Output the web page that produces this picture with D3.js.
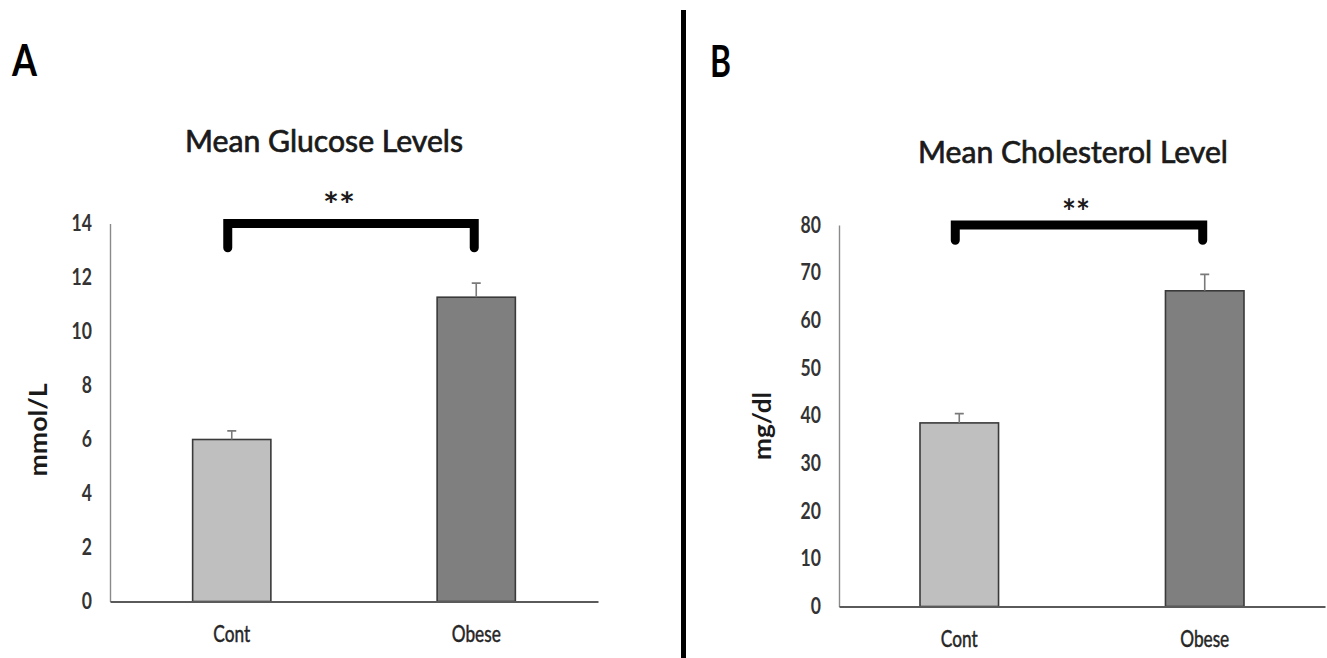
<!DOCTYPE html>
<html lang="en">
<head>
    <meta charset="UTF-8">
    <title>Mean Glucose and Cholesterol</title>
    <script src="https://d3js.org/d3.v7.min.js"></script>

    <style>
        body {
            margin: 0;
            background: #ffffff;
            font-family: Lato, "Open Sans", Arial, sans-serif;
        }

        svg {
            display: block;
        }
    </style>
</head>
<body>

    <div id="container"></div>

    <script>

        // data
        const categories = ['Cont', 'Obese'];

        const glucoseMeans = [6.0, 11.27];
        const glucoseErrors = [0.32, 0.52];
        const glucoseTicks = [0, 2, 4, 6, 8, 10, 12, 14];

        const cholesterolMeans = [38.5, 66.2];
        const cholesterolErrors = [1.95, 3.45];
        const cholesterolTicks = [0, 10, 20, 30, 40, 50, 60, 70, 80];

        const panelLetters = ['A', 'B'];
        const panelTitles = ['Mean Glucose Levels', 'Mean Cholesterol Level'];
        const yLabels = ['mmol/L', 'mg/dl'];
        const sigMark = '**';
        // bracket top and leg ends, in axis units
        const bracketTop = [14, 80];
        const bracketLeg = [13.1, 76.8];

        const width = 1327;
        const height = 658;

        const svg = d3.select('#container').append('svg')
            .attr('width', width)
            .attr('height', height);

        const barColor = d3.scaleOrdinal()
            .domain(categories)
            .range(['#bfbfbf', '#7f7f7f']);

        // squeeze text horizontally (the source figure is a bit narrow)
        function squeeze(sel, k) {
            sel.each(function() {
                const w = this.getComputedTextLength();
                d3.select(this)
                    .attr('textLength', w * k)
                    .attr('lengthAdjust', 'spacingAndGlyphs');
            });
        }

        function fitTo(sel, w) {
            sel.attr('textLength', w).attr('lengthAdjust', 'spacingAndGlyphs');
        }

        // layout of the two panels
        const panels = [
            {
                letter: panelLetters[0], title: panelTitles[0], yLabel: yLabels[0],
                means: glucoseMeans, errors: glucoseErrors, ticks: glucoseTicks,
                top: bracketTop[0], leg: bracketLeg[0],
                x0: 110, x1: 598, base: 601.5, yTop: 223.5,
                padOuter: 0.338,
                letterX: 12, letterW: 25, letterY: 76,
                titleX: 324, titleY: 152, titleW: 278,
                labelX: 47, labelY: 430, labelW: 93,
                starDx: -12, starY: 217, starW: 32
            },
            {
                letter: panelLetters[1], title: panelTitles[1], yLabel: yLabels[1],
                means: cholesterolMeans, errors: cholesterolErrors, ticks: cholesterolTicks,
                top: bracketTop[1], leg: bracketLeg[1],
                x0: 839, x1: 1325, base: 606.5, yTop: 225,
                padOuter: 0.33,
                letterX: 710, letterW: 21, letterY: 77,
                titleX: 1073, titleY: 163, titleW: 310,
                labelX: 771, labelY: 426, labelW: 68,
                starDx: -3, starY: 224, starW: 28
            }
        ];

        panels.forEach(function(p) {

            const g = svg.append('g');

            const x = d3.scaleBand()
                .domain(categories)
                .range([p.x0, p.x1])
                .paddingInner(0.68)
                .paddingOuter(p.padOuter);

            const y = d3.scaleLinear()
                .domain([0, p.ticks[p.ticks.length - 1]])
                .range([p.base, p.yTop]);

            // bars
            g.selectAll('.bar')
                .data(categories)
                .enter()
                .append('rect')
                .attr('class', 'bar')
                .attr('x', d => x(d))
                .attr('width', x.bandwidth())
                .attr('y', (d, i) => y(p.means[i]))
                .attr('height', (d, i) => y(0) - y(p.means[i]))
                .attr('fill', d => barColor(d))
                .attr('stroke', '#3a3a3a')
                .attr('stroke-width', 1.6);

            // error bars (plus side only)
            const cx = d => x(d) + x.bandwidth() / 2;

            g.selectAll('.err')
                .data(categories)
                .enter()
                .append('path')
                .attr('class', 'err')
                .attr('d', function(d, i) {
                    const yb = y(p.means[i]);
                    const ye = y(p.means[i] + p.errors[i]);
                    return 'M' + cx(d) + ',' + yb + 'V' + ye +
                        'M' + (cx(d) - 4.5) + ',' + ye + 'H' + (cx(d) + 4.5);
                })
                .attr('fill', 'none')
                .attr('stroke', '#7a7a7a')
                .attr('stroke-width', 1.6);

            // y axis
            const yAxis = g.append('g')
                .attr('transform', 'translate(' + p.x0 + ',0)')
                .call(d3.axisLeft(y).tickValues(p.ticks).tickSize(0).tickPadding(18));

            yAxis.select('.domain')
                .attr('stroke', '#8a8a8a')
                .attr('stroke-width', 1.4);

            yAxis.selectAll('text')
                .attr('font-family', 'Lato, sans-serif')
                .attr('font-size', 22)
                .attr('font-weight', 'bold')
                .attr('fill', '#333')
                .call(squeeze, 0.8);

            // x axis
            const xAxis = g.append('g')
                .attr('transform', 'translate(0,' + p.base + ')')
                .call(d3.axisBottom(x).tickSize(0).tickPadding(24));

            xAxis.select('.domain')
                .attr('stroke', '#5a5a5a')
                .attr('stroke-width', 2);

            xAxis.selectAll('text')
                .attr('font-family', 'Lato, sans-serif')
                .attr('font-size', 23)
                .attr('fill', '#262626')
                .attr('stroke', '#262626')
                .attr('stroke-width', 0.5)
                .call(squeeze, 0.75);

            // significance bracket
            const xl = cx(categories[0]) - 4;
            const xr = cx(categories[1]) - 2;

            g.append('path')
                .attr('d', 'M' + xl + ',' + y(p.leg) + 'V' + y(p.top) +
                    'H' + xr + 'V' + y(p.leg))
                .attr('fill', 'none')
                .attr('stroke', '#000')
                .attr('stroke-width', 9)
                .attr('stroke-linecap', 'round');

            g.append('text')
                .attr('x', (xl + xr) / 2 + p.starDx)
                .attr('y', p.starY)
                .attr('text-anchor', 'middle')
                .attr('font-family', 'Lato, sans-serif')
                .attr('font-size', 34)
                .attr('font-weight', 'bold')
                .attr('fill', '#1a1a1a')
                .text(sigMark)
                .call(fitTo, p.starW);

            // title
            g.append('text')
                .attr('x', p.titleX)
                .attr('y', p.titleY)
                .attr('text-anchor', 'middle')
                .attr('font-family', 'Lato, sans-serif')
                .attr('font-size', 30)
                .attr('fill', '#1a1a1a')
                .attr('stroke', '#1a1a1a')
                .attr('stroke-width', 0.7)
                .text(p.title)
                .call(fitTo, p.titleW);

            // panel letter
            g.append('text')
                .attr('x', p.letterX)
                .attr('y', p.letterY)
                .attr('font-family', 'Lato, sans-serif')
                .attr('font-size', 44)
                .attr('font-weight', 'bold')
                .attr('fill', '#000')
                .text(p.letter)
                .call(fitTo, p.letterW);

            // y axis title
            g.append('text')
                .attr('transform', 'translate(' + p.labelX + ',' + p.labelY + ') rotate(-90)')
                .attr('text-anchor', 'middle')
                .attr('font-family', 'Lato, sans-serif')
                .attr('font-size', 24)
                .attr('font-weight', 'bold')
                .attr('fill', '#1a1a1a')
                .text(p.yLabel)
                .call(fitTo, p.labelW);
        });

        // divider between the panels
        svg.append('line')
            .attr('x1', 683.5)
            .attr('x2', 683.5)
            .attr('y1', 10)
            .attr('y2', height)
            .attr('stroke', '#000')
            .attr('stroke-width', 5);

    </script>

</body>
</html>
